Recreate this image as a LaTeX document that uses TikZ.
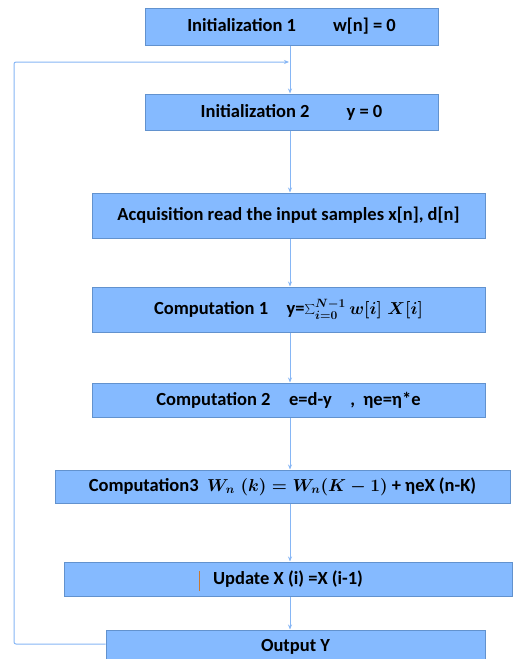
\documentclass[tikz,border=0pt]{standalone}
\usepackage{fontspec}
\setmainfont{Carlito}
\usetikzlibrary{arrows.meta, positioning}

\definecolor{boxfill}{RGB}{133,186,255}
\definecolor{boxdraw}{RGB}{98,146,206}
\definecolor{flowline}{RGB}{134,182,245}
\definecolor{cursor}{RGB}{200,120,50}

\tikzset{
  procbox/.style={draw=boxdraw, fill=boxfill, line width=1pt,
                  font=\fontsize{18.5}{22}\selectfont\bfseries\boldmath,
                  text centered, inner sep=0pt},
  flow/.style={->, draw=flowline, line width=1pt}
}

\begin{document}
\begin{tikzpicture}[
    x=1pt, y=-1pt, >={Stealth[length=5pt, width=4pt]}
  ]
  \useasboundingbox (0,0) rectangle (512,659);

  \node[procbox, minimum width=293pt, minimum height=37pt]
        (init1) at (291.5,26.5) {Initialization 1\qquad w[n] = 0};
  \node[procbox, minimum width=293pt, minimum height=36pt,
        below=48pt of init1] (init2) {Initialization 2\qquad y = 0};
  \node[procbox, minimum width=393pt, minimum height=45pt,
        below=62pt of init2, xshift=-3pt] (acq)
        {Acquisition read the input samples x[n], d[n]};
  \node[procbox, minimum width=393pt, minimum height=45pt,
        below=48pt of acq] (comp1)
        {Computation 1\quad y=$\sum_{i=0}^{N-1} w[i]\;X[i]$};
  \node[procbox, minimum width=393pt, minimum height=34pt,
        below=50pt of comp1] (comp2)
        {Computation 2\quad e=d-y\quad ,\ \ ηe=η*e};
  \node[procbox, minimum width=455pt, minimum height=33pt,
        below=52pt of comp2, xshift=-6pt] (comp3)
        {Computation3\ \ $W_n\;(k) = W_n(K-1)$ + ηeX (n-K)};
  \node[procbox, minimum width=448pt, minimum height=34pt,
        below=58pt of comp3, xshift=5.5pt] (upd)
        {Update X (i) =X (i-1)};
  \node[procbox, minimum width=379pt, minimum height=34pt,
        below=33pt of upd, xshift=7.5pt] (out) {Output Y};

  % stray cursor mark in front of the update text
  \draw[cursor, line width=0.8pt] (199,571) -- (199,591);

  \coordinate (spine) at (290,0);
  \coordinate (loopx) at (14,0);
  \coordinate (join) at (289,62);

  \draw[flow] (init1.south -| spine) -- (init2.north -| spine);
  \draw[flow] (init2.south -| spine) -- (acq.north -| spine);
  \draw[flow] (acq.south -| spine) -- (comp1.north -| spine);
  \draw[flow] (comp1.south -| spine) -- (comp2.north -| spine);
  \draw[flow] (comp2.south -| spine) -- (comp3.north -| spine);
  \draw[flow] (comp3.south -| spine) -- (upd.north -| spine);
  \draw[flow] (upd.south -| spine) -- (out.north -| spine);

  % loop back from the output to the second initialization
  \draw[flow, rounded corners=2pt]
    ([yshift=3pt]out.west) -- ([yshift=3pt]out.west -| loopx) |- (join);
\end{tikzpicture}
\end{document}
